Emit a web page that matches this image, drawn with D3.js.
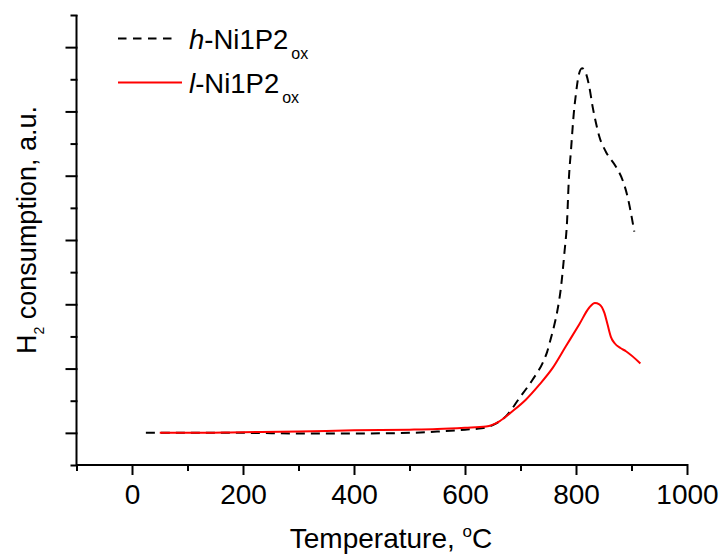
<!DOCTYPE html>
<html><head><meta charset="utf-8">
<script src="https://cdn.jsdelivr.net/npm/d3@7"></script>
<style>
html,body{margin:0;padding:0;background:#fff;}
svg{display:block;font-family:"Liberation Sans",Arial,sans-serif;}
</style></head>
<body><svg id="c" width="720" height="556"></svg>
<script>
// Data (temperature in °C, H2 consumption in a.u.)
const hTemp = [25,50,100,200,300,400,500,550,600,630,650,674,698,722,740,748,755,761,766,773,779,784,787,791,796,800,805,811,818,824,830,836,842,854,872,884,893,899,905];
const hVal  = [0,0,0,0,-0.01,-0.01,0,0.02,0.05,0.07,0.12,0.26,0.54,0.83,1.09,1.26,1.48,1.68,1.88,2.27,2.79,3.31,3.93,4.40,4.97,5.28,5.57,5.67,5.59,5.38,5.07,4.82,4.61,4.37,4.14,3.93,3.67,3.42,3.13];
const lTemp = [50,100,200,300,400,500,550,600,638,662,686,710,734,758,782,806,824,834,842,851,857,863,870,880,890,916];
const lVal  = [0,0,0.01,0.02,0.04,0.05,0.06,0.08,0.10,0.18,0.34,0.52,0.75,1.01,1.35,1.69,1.95,2.02,2.00,1.87,1.68,1.49,1.39,1.32,1.27,1.08];
const xMajor = [0,200,400,600,800,1000];
const xMinor = [-100,100,300,500,700,900];
const yMajor = [0,1,2,3,4,5,6];
const yMinor = [-0.5,0.5,1.5,2.5,3.5,4.5,5.5,6.5];
const seriesNames = ["h","l"];

const svg = d3.select("#c");
const x = d3.scaleLinear().domain([-100,1000]).range([76.5,687]);
const y = d3.scaleLinear().domain([-0.5,6.5]).range([465,15]);

const g = svg.append("g");
// axes
const xAxisMaj = d3.axisBottom(x).tickValues(xMajor).tickSize(9).tickPadding(10).tickFormat(d3.format("d"));
const xAxisMin = d3.axisBottom(x).tickValues(xMinor).tickSize(5).tickFormat("");
const yAxisMaj = d3.axisLeft(y).tickValues(yMajor).tickSize(10).tickFormat("");
const yAxisMin = d3.axisLeft(y).tickValues(yMinor).tickSize(5).tickFormat("");

function styleAxis(sel){
  sel.select(".domain").attr("stroke","#000").attr("stroke-width",2);
  sel.selectAll(".tick line").attr("stroke","#000").attr("stroke-width",2);
  sel.selectAll(".tick text").attr("font-size",28).attr("fill","#000").attr("font-family","Liberation Sans, Arial, sans-serif");
}
const gx1 = g.append("g").attr("transform",`translate(0,${y(-0.5)})`).call(xAxisMin);
gx1.select(".domain").remove();
const gx2 = g.append("g").attr("transform",`translate(0,${y(-0.5)})`).call(xAxisMaj);
gx2.select(".domain").attr("d",`M${x(-100)},0H${x(1000)}`);
styleAxis(gx1); styleAxis(gx2);
gx2.selectAll(".tick text").attr("dy",null).attr("y",39);
const gy1 = g.append("g").attr("transform",`translate(${x(-100)},0)`).call(yAxisMin);
gy1.select(".domain").remove();
const gy2 = g.append("g").attr("transform",`translate(${x(-100)},0)`).call(yAxisMaj);
gy2.select(".domain").attr("d",`M0,${y(6.5)}V${y(-0.5)}`);
styleAxis(gy1); styleAxis(gy2);
g.selectAll(".tick line").attr("stroke-linecap","square");

// lines
const line = d3.line().x(d=>x(d[0])).y(d=>y(d[1])).curve(d3.curveMonotoneX);
const hData = hTemp.map((t,i)=>[t,hVal[i]]);
const lData = lTemp.map((t,i)=>[t,lVal[i]]);
g.append("path").datum(hData).attr("d",line).attr("fill","none").attr("stroke","#000").attr("stroke-width",2).attr("stroke-dasharray","9,6");
g.append("path").datum(lData).attr("d",line).attr("fill","none").attr("stroke","#ff0000").attr("stroke-width",2);

// axis titles
const xt = svg.append("text").attr("x",391).attr("y",548).attr("text-anchor","middle").attr("font-size",28).attr("fill","#000");
xt.append("tspan").text("Temperature, ");
xt.append("tspan").text("o").attr("font-size",17).attr("dy",-11);
xt.append("tspan").text("C").attr("dy",11);

const yt = svg.append("text").attr("transform","translate(36,230) rotate(-90)").attr("text-anchor","middle").attr("font-size",27).attr("fill","#000");
yt.append("tspan").text("H");
yt.append("tspan").text("2").attr("font-size",14).attr("dy",8);
yt.append("tspan").text(" consumption, a.u.").attr("dy",-8);

// legend
const leg = svg.append("g");
leg.append("line").attr("x1",118).attr("x2",172).attr("y1",38.5).attr("y2",38.5).attr("stroke","#000").attr("stroke-width",2).attr("stroke-dasharray","8.5,6.5");
leg.append("line").attr("x1",118).attr("x2",182).attr("y1",82.5).attr("y2",82.5).attr("stroke","#ff0000").attr("stroke-width",2);
const legRows = [
  {name:seriesNames[0], base:48.5, x:189},
  {name:seriesNames[1], base:93, x:189}
];
legRows.forEach(r=>{
  const t = leg.append("text").attr("x",r.x).attr("y",r.base).attr("font-size",27.5).attr("fill","#000");
  t.append("tspan").attr("font-style","italic").text(r.name);
  t.append("tspan").text("-Ni1P2");
  t.append("tspan").attr("font-size",16).attr("dy",10).attr("dx",3).text("ox");
});
</script></body></html>
